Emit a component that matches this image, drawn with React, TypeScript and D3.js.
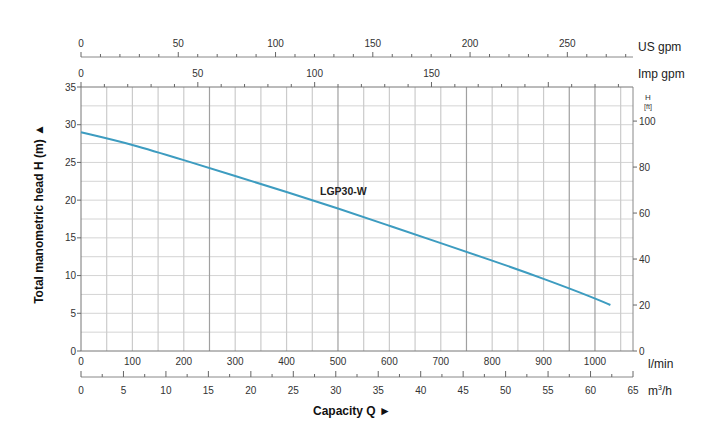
import React from "react";
import * as d3 from "d3";

// Pump curve LGP30-W: capacity (l/min) vs total head (m)
const CAPACITY_LPM = [0, 100, 200, 300, 400, 500, 600, 700, 800, 900, 1000, 1030];
const HEAD_M = [29.0, 27.4, 25.3, 23.2, 21.1, 18.9, 16.6, 14.3, 12.0, 9.6, 7.0, 6.1];
const CURVE_NAME = "LGP30-W";

const HEAD_TICKS_M = [0, 5, 10, 15, 20, 25, 30, 35];
const HEAD_TICKS_FT = [0, 20, 40, 60, 80, 100];
const LPM_TICKS = [0, 100, 200, 300, 400, 500, 600, 700, 800, 900, 1000];
const M3H_TICKS = [0, 5, 10, 15, 20, 25, 30, 35, 40, 45, 50, 55, 60, 65];
const USGPM_TICKS = [0, 50, 100, 150, 200, 250];
const IMPGPM_TICKS = [0, 50, 100, 150];
const DARK_GRID_LPM = [250, 500, 750, 950, 1000];

const FONT = "'Liberation Sans', Arial, sans-serif";

export default function App() {
  const left = 81, right = 633, top = 87, bottom = 351;
  const maxLpm = 1074;
  const x = d3.scaleLinear().domain([0, maxLpm]).range([left, right]);
  const y = d3.scaleLinear().domain([0, 35]).range([bottom, top]);
  const yFt = d3.scaleLinear().domain([0, 35 / 0.3048]).range([bottom, top]);
  const xM3h = d3.scaleLinear().domain([0, 65]).range([left, right]);
  const xUs = d3.scaleLinear().domain([0, maxLpm / 3.785]).range([left, right]);
  const xImp = d3.scaleLinear().domain([0, maxLpm / 4.546]).range([left, right]);

  const pts: [number, number][] = CAPACITY_LPM.map((q, i) => [q, HEAD_M[i]]);
  const line = d3
    .line<[number, number]>()
    .x((d) => x(d[0]))
    .y((d) => y(d[1]))
    .curve(d3.curveBasis);

  const vGrid = d3.range(50, maxLpm, 50);
  const hGrid = d3.range(2.5, 35, 2.5);

  const usMinor = d3.range(0, maxLpm / 3.785, 10);
  const impMinor = d3.range(0, maxLpm / 4.546, 10);
  const m3Minor = d3.range(0, 65.01, 2.5);

  const tickCol = "#666";
  const labCol = "#333";
  const usY = 57;

  return (
    <div style={{ position: "absolute", left: 0, top: 0 }}>
      <svg width={712} height={438} style={{ display: "block", background: "#fff" }} fontFamily={FONT}>
        <rect width={712} height={438} fill="#fff" />
        {/* grid */}
        {hGrid.map((h) => (
          <line key={"h" + h} x1={left} x2={right} y1={y(h)} y2={y(h)} stroke="#d4d4d4" strokeWidth={1} />
        ))}
        {vGrid.map((q) => (
          <line
            key={"v" + q}
            x1={x(q)}
            x2={x(q)}
            y1={top}
            y2={bottom}
            stroke={DARK_GRID_LPM.includes(q) ? "#a0a0a0" : "#cbcbcb"}
            strokeWidth={1.2}
          />
        ))}
        {/* frame */}
        <line x1={left} x2={right} y1={top} y2={top} stroke="#777" />
        <line x1={right} x2={right} y1={top} y2={bottom} stroke="#888" />
        <line x1={left} x2={left} y1={top} y2={bottom} stroke="#777" />
        <line x1={left} x2={right} y1={bottom} y2={bottom} stroke="#777" />

        {/* left axis */}
        {HEAD_TICKS_M.map((t) => (
          <g key={"ym" + t}>
            <line x1={left - 4} x2={left} y1={y(t)} y2={y(t)} stroke={tickCol} />
            <text x={left - 5} y={y(t) + 3.5} fontSize={10} fill={labCol} textAnchor="end">
              {t}
            </text>
          </g>
        ))}
        {/* right axis ft */}
        {HEAD_TICKS_FT.map((t) => (
          <g key={"yf" + t}>
            <line x1={right} x2={right + 4} y1={yFt(t)} y2={yFt(t)} stroke={tickCol} />
            <text x={right + 6} y={yFt(t) + 3.5} fontSize={10} fill={labCol}>
              {t}
            </text>
          </g>
        ))}
        <text x={648} y={100} fontSize={8} fill={labCol} textAnchor="middle">H</text>
        <text x={648} y={109} fontSize={7} fill={labCol} textAnchor="middle">[ft]</text>

        {/* bottom l/min labels */}
        {LPM_TICKS.map((t) => (
          <text key={"lpm" + t} x={x(t)} y={365} fontSize={10} fill={labCol} textAnchor="middle">
            {t}
          </text>
        ))}
        <text x={648} y={368} fontSize={12} fill="#222">l/min</text>

        {/* m3/h axis */}
        <line x1={xM3h(0)} x2={xM3h(65)} y1={377} y2={377} stroke="#888" />
        {m3Minor.map((t) => (
          <line key={"m3m" + t} x1={xM3h(t)} x2={xM3h(t)} y1={377} y2={t % 5 === 0 ? 371 : 374} stroke={tickCol} />
        ))}
        {M3H_TICKS.map((t) => (
          <text key={"m3" + t} x={xM3h(t)} y={394} fontSize={10} fill={labCol} textAnchor="middle">
            {t}
          </text>
        ))}
        <text x={648} y={395} fontSize={12} fill="#222">
          m<tspan fontSize={7} dy={-5}>3</tspan>
          <tspan dy={5}>/h</tspan>
        </text>

        {/* US gpm axis */}
        <line x1={left} x2={right} y1={usY} y2={usY} stroke="#888" />
        {usMinor.map((t) => (
          <line key={"usm" + t} x1={xUs(t)} x2={xUs(t)} y1={usY} y2={t % 50 === 0 ? usY - 5 : usY - 3} stroke={tickCol} />
        ))}
        {USGPM_TICKS.map((t) => (
          <text key={"us" + t} x={xUs(t)} y={47} fontSize={10} fill={labCol} textAnchor="middle">
            {t}
          </text>
        ))}
        <text x={638} y={51} fontSize={12} fill="#222">US gpm</text>

        {/* Imp gpm axis (on top frame) */}
        {impMinor.map((t) => (
          <line key={"impm" + t} x1={xImp(t)} x2={xImp(t)} y1={top} y2={t % 50 === 0 ? top - 5 : top - 3} stroke={tickCol} />
        ))}
        {IMPGPM_TICKS.map((t) => (
          <text key={"imp" + t} x={xImp(t)} y={77} fontSize={10} fill={labCol} textAnchor="middle">
            {t}
          </text>
        ))}
        <text x={638} y={78} fontSize={12} fill="#222">Imp gpm</text>

        {/* curve */}
        <path d={line(pts) || ""} fill="none" stroke="#3d9cc0" strokeWidth={2} />
        <text x={320} y={195} fontSize={10.5} fontWeight="bold" fill="#222">
          {CURVE_NAME}
        </text>

        {/* axis titles */}
        <text
          transform={`translate(43, 214) rotate(-90)`}
          fontSize={12}
          fontWeight="bold"
          fill="#111"
          textAnchor="middle"
        >
          Total manometric head H (m)  ▲
        </text>
        <text x={313} y={415} fontSize={12} fontWeight="bold" fill="#111">
          Capacity Q  ►
        </text>
      </svg>
    </div>
  );
}
